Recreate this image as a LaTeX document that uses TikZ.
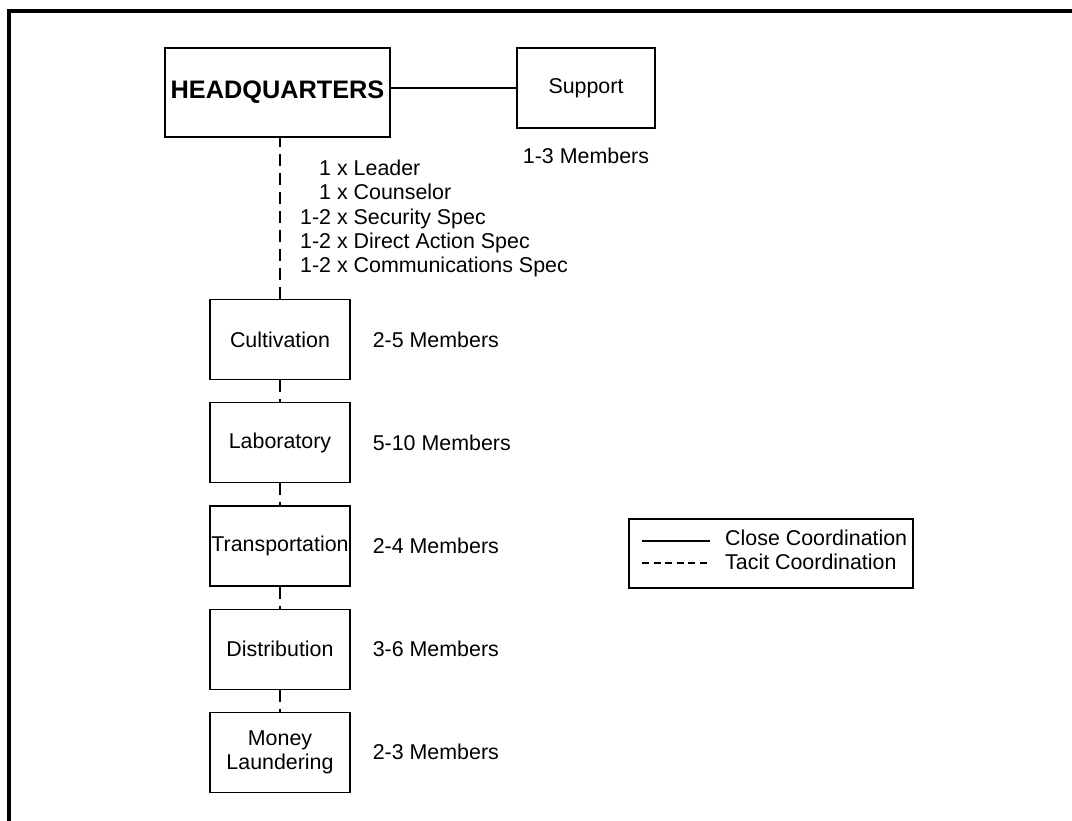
\documentclass[tikz,border=0pt]{standalone}
\usepackage{fontspec}
\setmainfont{Liberation Sans}
\usetikzlibrary{positioning}
\newcommand{\txtsize}{\fontsize{21.4}{23.5}\selectfont}

\begin{document}
\begin{tikzpicture}[x=1pt,y=-1pt,node distance=22pt,
  unit/.style={draw,line width=1.2pt,minimum width=140pt,minimum height=80pt,inner sep=0pt,align=center,font=\txtsize},
  tacit/.style={line width=1.2pt,dash pattern=on 12pt off 7pt},
  close/.style={line width=1.2pt},
  lbl/.style={font=\txtsize,inner sep=0pt}]
\useasboundingbox (0,0) rectangle (1072,821);
% frame
\draw[line width=3.7pt] (9,830)--(9,11)--(1080,11);
% headquarters and support
\node[unit,minimum width=225pt,minimum height=89pt,font=\fontsize{25.3}{30}\selectfont\bfseries] (hq) at (277.5,92.5) {HEADQUARTERS};
\node[unit,minimum width=138pt] (sup) at (586,88) {Support};
\node[lbl,below=19.5pt of sup] (supm) {1-3 Members};
\draw[close] (sup.west) -- (sup.west -| hq.east);
\node[lbl,anchor=north west,align=left,font=\fontsize{21.4}{24.25}\selectfont] (staff) at (300,160)
  {\phantom{1-}1 x Leader\\ \phantom{1-}1 x Counselor\\ 1-2 x Security Spec\\ 1-2 x Direct Action Spec\\ 1-2 x Communications Spec};
% cells
\node[unit] (cult) at (280,339.5) {Cultivation};
\node[unit,below=of cult] (lab) {Laboratory};
\node[unit,below=of lab] (trans) {Transportation};
\node[unit,below=of trans] (dist) {Distribution};
\node[unit,below=of dist] (money) {Money\\Laundering};
\draw[tacit] (cult.north) -- (cult.north |- hq.south);
\foreach \a/\b in {cult/lab,lab/trans,trans/dist,dist/money}
  \draw[tacit] (\a) -- (\b);
\foreach \n/\m in {cult/2-5,lab/5-10,trans/2-4,dist/3-6,money/2-3}
  \node[lbl,anchor=west] (\n m) at ([xshift=22pt]\n.east) {\m\ Members};
% legend
\node[draw,line width=1.2pt,minimum width=284pt,minimum height=69pt] (leg) at (771,553.5) {};
\coordinate (c1) at (642,541);
\coordinate (c2) at (710,541);
\coordinate (t1) at (642,563);
\coordinate (t2) at (710,563);
\draw[close] (c1) -- (c2);
\draw[line width=1.2pt,dash pattern=on 7pt off 4.5pt] (t1) -- (t2);
\node[lbl,anchor=west] (closetxt) at (725,538) {Close Coordination};
\node[lbl,anchor=west] (tacittxt) at (725,562) {Tacit Coordination};
\end{tikzpicture}
\end{document}
